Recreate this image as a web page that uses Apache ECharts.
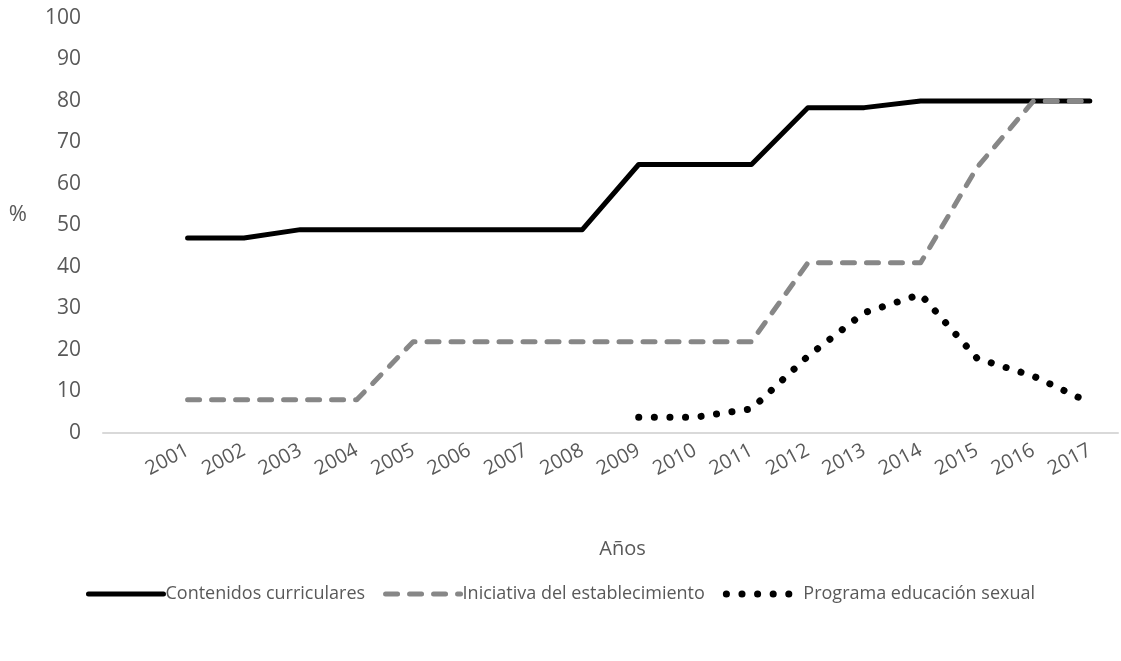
<!DOCTYPE html>
<html>
<head>
<meta charset="utf-8">
<script src="https://cdn.jsdelivr.net/npm/echarts@6/dist/echarts.min.js"></script>
<style>html,body{margin:0;padding:0;background:#fff}#c{width:1121px;height:661px}</style>
</head>
<body>
<div id="c"></div>
<script>
const years = ['', '2001','2002','2003','2004','2005','2006','2007','2008','2009','2010','2011','2012','2013','2014','2015','2016','2017'];
const contenidos = [null, 47, 47, 49, 49, 49, 49, 49, 49, 64.7, 64.7, 64.7, 78.4, 78.4, 80, 80, 80, 80];
const iniciativa = [null, 8, 8, 8, 8, 22, 22, 22, 22, 22, 22, 22, 41, 41, 41, 64, 80, 80];
const programa = [null, null, null, null, null, null, null, null, null, 3.8, 3.8, 5.8, 18.5, 29, 33.4, 18, 13.7, 7.3];
const yTicks = [0, 100, 10];
const seriesNames = ['Contenidos curriculares', 'Iniciativa del establecimiento', 'Programa educación sexual'];

const F = '"Open Sans", sans-serif';
const styles = [
  { color: '#000000', width: 5, type: 'solid', cap: 'round', join: 'round' },
  { color: '#878787', width: 5, type: [12, 12], cap: 'round', join: 'round' },
  { color: '#000000', width: 7, type: [0.1, 15.5], cap: 'round', join: 'round' }
];
const chart = echarts.init(document.getElementById('c'));
chart.setOption({
  animation: false,
  backgroundColor: '#ffffff',
  grid: { left: 103, right: 3, top: 18, bottom: 228, containLabel: false },
  legend: {
    bottom: 53,
    left: 'center',
    itemWidth: 75,
    itemHeight: 14,
    itemGap: 18,
    textStyle: { fontFamily: F, fontSize: 18, color: '#595959', padding: [0, 0, 0, -3] },
    itemStyle: { opacity: 0 },
    data: seriesNames.map((n, i) => ({ name: n, lineStyle: Object.assign({}, styles[i]), itemStyle: { opacity: 0 } }))
  },
  xAxis: {
    type: 'category',
    data: years,
    boundaryGap: true,
    name: 'Años',
    nameLocation: 'middle',
    nameGap: 106,
    nameTextStyle: { fontFamily: F, fontSize: 20, color: '#595959', padding: [0, 0, 0, 24] },
    axisLine: { lineStyle: { color: '#d9d9d9', width: 2 } },
    axisTick: { show: false },
    axisLabel: { rotate: 28, margin: 16, fontFamily: F, fontSize: 20, color: '#595959', interval: 0 },
    splitLine: { show: false }
  },
  yAxis: {
    type: 'value',
    min: yTicks[0], max: yTicks[1], interval: yTicks[2],
    name: '%',
    nameLocation: 'middle',
    nameRotate: 0,
    nameGap: 76,
    nameTextStyle: { fontFamily: F, fontSize: 22, color: '#595959', verticalAlign: 'bottom' },
    axisLine: { show: false },
    axisTick: { show: false },
    axisLabel: { margin: 22, fontFamily: F, fontSize: 21, color: '#595959' },
    splitLine: { show: false }
  },
  series: [
    { name: seriesNames[0], type: 'line', data: contenidos, symbol: 'none', color: styles[0].color, lineStyle: styles[0] },
    { name: seriesNames[1], type: 'line', data: iniciativa, symbol: 'none', color: styles[1].color, lineStyle: styles[1] },
    { name: seriesNames[2], type: 'line', data: programa, symbol: 'none', color: styles[2].color, lineStyle: styles[2] }
  ]
});
</script>
</body>
</html>
